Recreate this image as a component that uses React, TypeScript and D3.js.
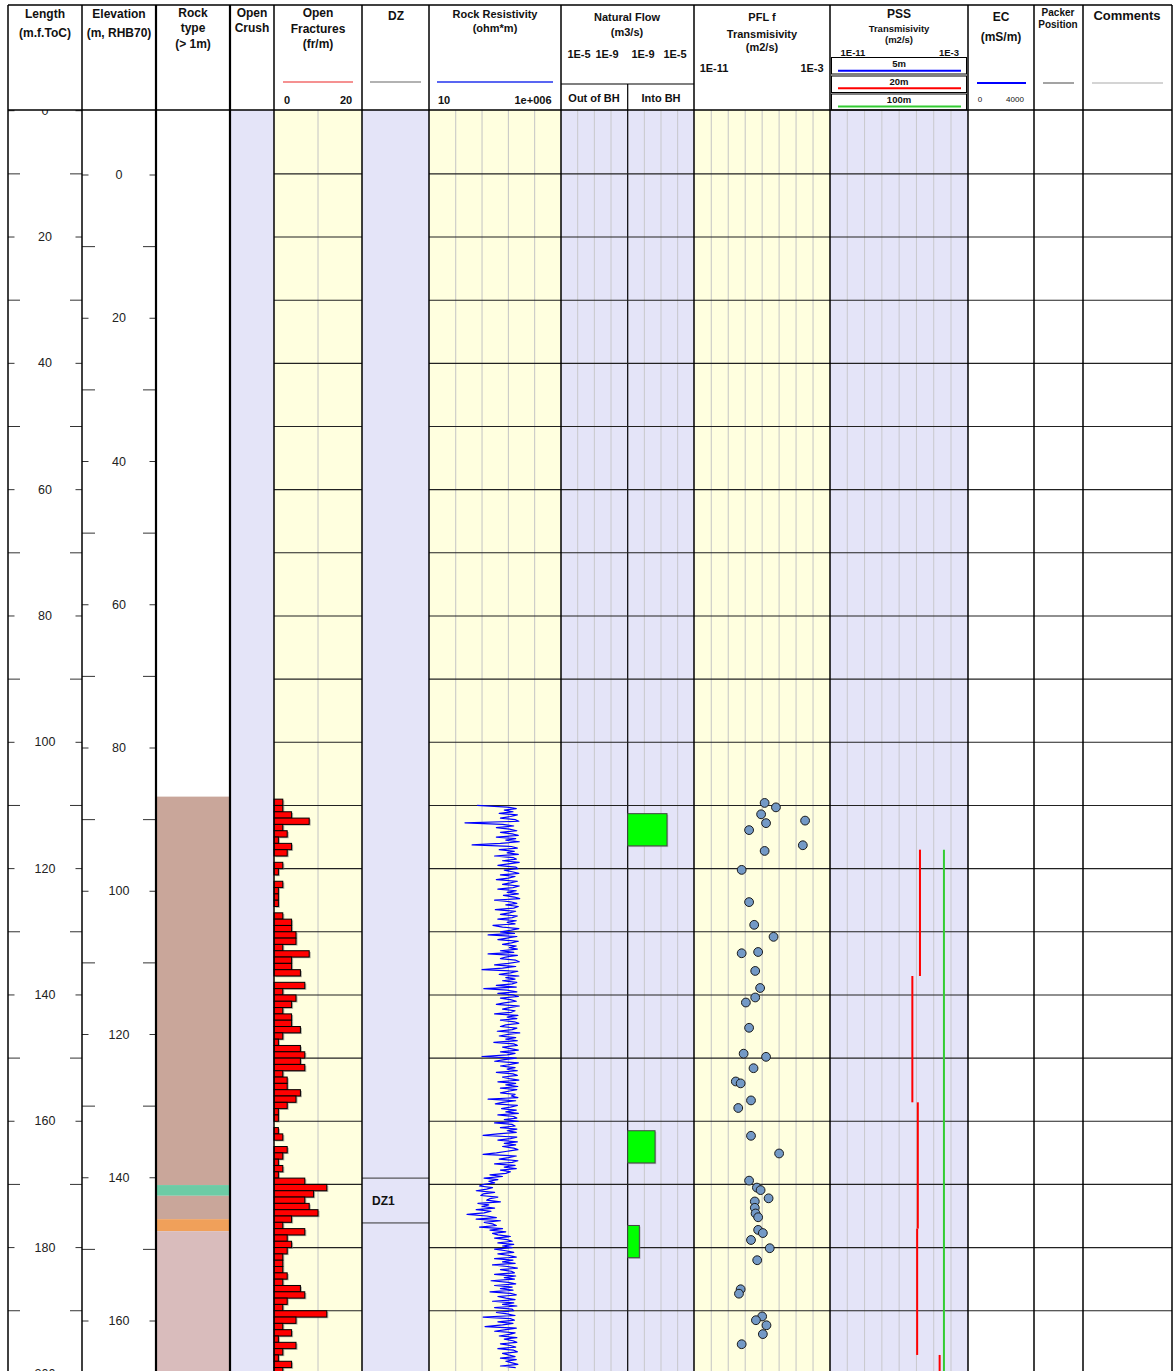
import React from 'react';
import * as d3 from 'd3';

const WIDTH = 1173;
const HEIGHT = 1371;
const FONT = "'Liberation Sans', Arial, Helvetica, sans-serif";

// Column edges (Length, Elevation, Rock type, Open Crush, Open Fractures, DZ,
// Rock Resistivity, Natural Flow, PFL, PSS, EC, Packer, Comments)
const COLS = [8, 82, 156, 230, 274, 362, 429, 561, 694, 830, 968, 1034, 1083, 1172];

// Rock type intervals along the borehole (m)
const rockFrom = [108.6, 170.1, 171.8, 175.5, 177.4];
const rockTo = [170.1, 171.8, 175.5, 177.4, 205];
const rockCode = [1, 2, 1, 3, 4];

// Open fractures per metre, one value per metre starting at 109 m
const fractureStart = 109;
const fracturesPerMetre = [
  2, 2, 4, 8, 2, 3, 1, 4, 3, 0,
  2, 1, 0, 2, 1, 1, 1, 0, 2, 4,
  4, 5, 5, 2, 8, 4, 4, 6, 0, 7,
  2, 5, 4, 2, 4, 4, 6, 2, 1, 6,
  7, 6, 7, 2, 3, 3, 6, 5, 3, 1,
  1, 0, 1, 2, 0, 3, 2, 1, 2, 1,
  7, 12, 9, 7, 8, 10, 4, 2, 7, 3,
  4, 3, 2, 2, 2, 3, 2, 6, 7, 3,
  2, 12, 5, 2, 4, 1, 5, 2, 1, 4,
  2,
];

// Deformation zones
const dzName = ['DZ1'];
const dzFrom = [169.0];
const dzTo = [176.1];

// Rock resistivity (ohm*m), sampled every 0.25 m from 110 m
const resistivityStart = 110;
const resistivityStep = 0.25;
const resistivity = [
  650, 9000, 20000, 7000, 15000, 4500, 22000, 12000, 5000, 18000, 25000, 225, 6000, 16000, 3500, 11000, 21000, 5000, 14000, 24000,
  3500, 19000, 8000, 26000, 5000, 420, 13000, 22000, 4500, 17000, 9000, 24000, 3000, 15000, 20000, 6000, 26000, 10000, 4000, 19000,
  23000, 7000, 14000, 25000, 5000, 18000, 10000, 3500, 22000, 12000, 6000, 26000, 15000, 4000, 20000, 9000, 24000, 6500, 17000, 27000,
  3000, 12000, 21000, 8000, 24000, 16000, 3200, 19000, 11000, 5000, 22000, 14000, 4000, 20000, 9000, 18000, 2600, 6000, 25000, 13000,
  5000, 17000, 1700, 21000, 9000, 4000, 24000, 13000, 6000, 20000, 11000, 22000, 5000, 16000, 1700, 22000, 8000, 5000, 19000, 26000,
  10000, 3000, 19000, 6000, 1000, 23000, 12000, 4500, 25000, 8000, 18000, 6000, 21000, 14000, 3500, 20000, 1170, 9000, 21000, 4000,
  15000, 24000, 5000, 12000, 20000, 7000, 3500, 26000, 11000, 6000, 18000, 13000, 3000, 23000, 9000, 21000, 5000, 17000, 25000, 8000,
  5000, 21000, 14000, 3800, 27000, 10000, 4500, 19000, 8000, 22000, 2800, 16000, 22000, 6000, 12000, 24000, 5000, 18000, 9000, 1000,
  20000, 7000, 3000, 24000, 12000, 5000, 18000, 9000, 22000, 3500, 15000, 22000, 6000, 11000, 25000, 4000, 19000, 8000, 23000, 5000,
  21000, 10000, 5000, 18000, 13000, 23000, 1700, 19000, 6000, 3200, 22000, 12000, 5500, 20000, 8000, 24000, 4000, 16000, 21000, 7000,
  24000, 3000, 14000, 18000, 5000, 21000, 9000, 20000, 4000, 1100, 21000, 12000, 4000, 22000, 7000, 19000, 6000, 16000, 23000, 9000,
  3500, 1100, 20000, 10000, 4500, 23000, 14000, 3000, 18000, 7000, 20000, 5000, 12000, 8000, 2000, 6000, 1200, 4000, 1800, 3000,
  1200, 800, 2500, 1500, 600, 3000, 1100, 900, 4000, 2000, 1500, 5000, 700, 1800, 1000, 3000, 600, 2200, 1200, 270,
  1500, 3500, 600, 5000, 1200, 2500, 3500, 800, 6000, 2000, 8000, 2500, 4000, 12000, 3000, 9000, 14000, 4000, 16000, 6000,
  14000, 3000, 8000, 16000, 4000, 11000, 20000, 3000, 15000, 6000, 18000, 2500, 9000, 22000, 5000, 13000, 17000, 3000, 19000, 7000,
  17000, 2200, 10000, 19000, 3000, 14000, 5000, 15000, 2000, 12000, 20000, 4000, 8000, 18000, 2500, 16000, 6000, 21000, 3000, 14000,
  16000, 3500, 9000, 18000, 1100, 12000, 17000, 4000, 15000, 6000, 1300, 20000, 8000, 3000, 18000, 11000, 4500, 21000, 7000, 15000,
  21000, 5000, 12000, 19000, 4000, 16000, 22000, 6000, 10000, 18000, 5000, 20000, 8000, 14000, 23000, 5000, 19000,
];

// Natural flow into the borehole (m3/s), 5 m sections
const flowFrom = [111.3, 161.5, 176.5];
const flowTo = [116.4, 166.6, 181.6];
const flowInto = [2.3e-7, 4.4e-8, 5e-9];

// PFL-f transmissivity (m2/s) at fracture positions (m)
const pflDepth = [
  109.6, 110.3, 111.4, 112.8, 112.4, 113.9, 116.3, 117.2, 120.2, 125.3,
  128.9, 130.8, 133.4, 133.2, 136.2, 138.9, 140.4, 141.2, 145.2, 149.3,
  149.8, 151.6, 153.7, 154.0, 156.7, 157.9, 162.3, 165.1, 169.4, 170.5,
  170.9, 172.2, 172.7, 173.7, 174.6, 175.2, 177.2, 177.7, 178.8, 180.1,
  182.0, 186.6, 187.3, 190.9, 191.5, 192.3, 193.7, 195.3,
];
const pflT = [
  1.4e-7, 6.5e-7, 8.7e-8, 1.7e-7, 3.4e-5, 1.7e-8, 2.5e-5, 1.4e-7, 6.2e-9, 1.7e-8,
  3.4e-8, 4.7e-7, 6.2e-9, 5.8e-8, 3.9e-8, 7.6e-8, 3.9e-8, 1.1e-8, 1.7e-8, 8.1e-9,
  1.7e-7, 3.1e-8, 2.8e-9, 5.4e-9, 2.2e-8, 3.9e-9, 2.2e-8, 1.0e-6, 1.7e-8, 4.9e-8,
  8.1e-8, 2.4e-7, 3.7e-8, 3.7e-8, 4.1e-8, 5.8e-8, 5.8e-8, 1.1e-7, 2.2e-8, 2.8e-7,
  5.1e-8, 5.4e-9, 4.3e-9, 1.0e-7, 4.3e-8, 1.8e-7, 1.1e-7, 6.2e-9,
];

// PSS transmissivity (m2/s), 20 m and 100 m test sections
const pss20From = [117, 137, 157, 177, 197];
const pss20To = [137, 157, 177, 197, 217];
const pss20T = [1.6e-6, 5.8e-7, 1.2e-6, 1.1e-6, 2.2e-5];
const pss100From = [117];
const pss100To = [217];
const pss100T = [3.9e-5];

const ROCK_COLORS: Record<number, string> = {
  1: '#C9A69A',
  2: '#6DCBA5',
  3: '#F0A05A',
  4: '#D9BCBC',
};

const YELLOW = '#FFFFDF';
const LAVENDER = '#E4E4F8';

type HeaderText = { x: number; y: number; t: string; size: number; bold?: boolean; anchor?: string };

const headerTexts: HeaderText[] = [
  { x: 45, y: 14, t: 'Length', size: 12, bold: true },
  { x: 45, y: 33, t: '(m.f.ToC)', size: 12, bold: true },
  { x: 119, y: 14, t: 'Elevation', size: 12, bold: true },
  { x: 119, y: 33, t: '(m, RHB70)', size: 12, bold: true },
  { x: 193, y: 13, t: 'Rock', size: 12, bold: true },
  { x: 193, y: 28, t: 'type', size: 12, bold: true },
  { x: 193, y: 44, t: '(> 1m)', size: 12, bold: true },
  { x: 252, y: 13, t: 'Open', size: 12, bold: true },
  { x: 252, y: 28, t: 'Crush', size: 12, bold: true },
  { x: 318, y: 13, t: 'Open', size: 12, bold: true },
  { x: 318, y: 29, t: 'Fractures', size: 12, bold: true },
  { x: 318, y: 44, t: '(fr/m)', size: 12, bold: true },
  { x: 287, y: 100, t: '0', size: 11, bold: true },
  { x: 346, y: 100, t: '20', size: 11, bold: true },
  { x: 396, y: 16, t: 'DZ', size: 12, bold: true },
  { x: 495, y: 14, t: 'Rock Resistivity', size: 11, bold: true },
  { x: 495, y: 28, t: '(ohm*m)', size: 11, bold: true },
  { x: 444, y: 100, t: '10', size: 11, bold: true },
  { x: 533, y: 100, t: '1e+006', size: 11, bold: true },
  { x: 627, y: 17, t: 'Natural Flow', size: 11, bold: true },
  { x: 627, y: 32, t: '(m3/s)', size: 11, bold: true },
  { x: 579, y: 54, t: '1E-5', size: 11, bold: true },
  { x: 607, y: 54, t: '1E-9', size: 11, bold: true },
  { x: 643, y: 54, t: '1E-9', size: 11, bold: true },
  { x: 675, y: 54, t: '1E-5', size: 11, bold: true },
  { x: 594, y: 98, t: 'Out of BH', size: 11, bold: true },
  { x: 661, y: 98, t: 'Into BH', size: 11, bold: true },
  { x: 762, y: 17, t: 'PFL f', size: 11, bold: true },
  { x: 762, y: 34, t: 'Transmisivity', size: 11, bold: true },
  { x: 762, y: 47, t: '(m2/s)', size: 11, bold: true },
  { x: 714, y: 68, t: '1E-11', size: 11, bold: true },
  { x: 812, y: 68, t: '1E-3', size: 11, bold: true },
  { x: 899, y: 14, t: 'PSS', size: 12, bold: true },
  { x: 899, y: 28, t: 'Transmisivity', size: 9.5, bold: true },
  { x: 899, y: 39, t: '(m2/s)', size: 9.5, bold: true },
  { x: 853, y: 52, t: '1E-11', size: 9.5, bold: true },
  { x: 949, y: 52, t: '1E-3', size: 9.5, bold: true },
  { x: 899, y: 63.5, t: '5m', size: 9.5, bold: true },
  { x: 899, y: 81.5, t: '20m', size: 9.5, bold: true },
  { x: 899, y: 99, t: '100m', size: 9.5, bold: true },
  { x: 1001, y: 17, t: 'EC', size: 12, bold: true },
  { x: 1001, y: 37, t: '(mS/m)', size: 12, bold: true },
  { x: 980, y: 99, t: '0', size: 8 },
  { x: 1015, y: 99, t: '4000', size: 8 },
  { x: 1058, y: 12, t: 'Packer', size: 10, bold: true },
  { x: 1058, y: 24, t: 'Position', size: 10, bold: true },
  { x: 1127, y: 15, t: 'Comments', size: 13, bold: true },
];

export default function App() {
  const yLen = d3.scaleLinear().domain([0, 200]).range([110.7, 1373.9]);
  const yElev = d3.scaleLinear().domain([0, 160]).range([175, 1321]);
  const xFrac = d3.scaleLinear().domain([0, 20]).range([274, 362]);
  const xRes = d3.scaleLog().domain([10, 1e6]).range([429.4, 561]);
  const xInto = d3.scaleLog().domain([1e-9, 1e-5]).range([627.7, 694.3]);
  const xOut = d3.scaleLog().domain([1e-5, 1e-9]).range([561, 627.7]);
  const xPfl = d3.scaleLog().domain([1e-11, 1e-3]).range([694.3, 830]);
  const xPss = d3.scaleLog().domain([1e-11, 1e-3]).range([830, 968.3]);

  const lengthTicks = d3.range(0, 201, 10);
  const elevationTicks = d3.range(-10, 171, 10);
  const gridDepths = d3.range(10, 200, 10);

  const resLine = d3
    .line<number>()
    .x((d) => xRes(d))
    .y((_, i) => yLen(resistivityStart + i * resistivityStep));
  const resPath = resLine(resistivity) || '';

  const top = 110;
  const bottom = HEIGHT;

  const decadeLines = (scale: d3.ScaleLogarithmic<number, number>, from: number, to: number) =>
    d3.range(from, to + 1).map((e) => scale(Math.pow(10, e)));

  const resGrid = decadeLines(xRes, 2, 5);
  const outGrid = decadeLines(xOut, -8, -6);
  const intoGrid = decadeLines(xInto, -8, -6);
  const pflGrid = decadeLines(xPfl, -10, -4);
  const pssGrid = decadeLines(xPss, -10, -4);

  return (
    <svg
      width={WIDTH}
      height={HEIGHT}
      style={{ position: 'absolute', left: 0, top: 0, background: '#fff' }}
      fontFamily={FONT}
    >
      <defs>
        <clipPath id="plotArea">
          <rect x={0} y={top} width={WIDTH} height={bottom - top} />
        </clipPath>
      </defs>

      <rect x={0} y={0} width={WIDTH} height={HEIGHT} fill="#fff" />

      {/* track backgrounds */}
      <rect x={COLS[3]} y={top} width={COLS[4] - COLS[3]} height={bottom - top} fill={LAVENDER} />
      <rect x={COLS[4]} y={top} width={COLS[5] - COLS[4]} height={bottom - top} fill={YELLOW} />
      <rect x={COLS[5]} y={top} width={COLS[6] - COLS[5]} height={bottom - top} fill={LAVENDER} />
      <rect x={COLS[6]} y={top} width={COLS[7] - COLS[6]} height={bottom - top} fill={YELLOW} />
      <rect x={COLS[7]} y={top} width={COLS[8] - COLS[7]} height={bottom - top} fill={LAVENDER} />
      <rect x={COLS[8]} y={top} width={COLS[9] - COLS[8]} height={bottom - top} fill={YELLOW} />
      <rect x={COLS[9]} y={top} width={COLS[10] - COLS[9]} height={bottom - top} fill={LAVENDER} />

      <g clipPath="url(#plotArea)">
        {/* rock type */}
        {rockFrom.map((f, i) => (
          <rect
            key={`rock${i}`}
            x={COLS[2]}
            y={yLen(f)}
            width={COLS[3] - COLS[2]}
            height={yLen(rockTo[i]) - yLen(f)}
            fill={ROCK_COLORS[rockCode[i]]}
          />
        ))}

        {/* vertical grid lines */}
        <line x1={xFrac(10)} x2={xFrac(10)} y1={top} y2={bottom} stroke="#c4c4c4" strokeWidth={1} />
        {resGrid.map((x, i) => (
          <line key={`rg${i}`} x1={x} x2={x} y1={top} y2={bottom} stroke="#c4c4c4" strokeWidth={1} />
        ))}
        {outGrid.concat(intoGrid).map((x, i) => (
          <line key={`fg${i}`} x1={x} x2={x} y1={top} y2={bottom} stroke="#c8c8cc" strokeWidth={1} />
        ))}
        <line x1={627.7} x2={627.7} y1={top} y2={bottom} stroke="#000" strokeWidth={1.2} />
        {pflGrid.map((x, i) => (
          <line key={`pg${i}`} x1={x} x2={x} y1={top} y2={bottom} stroke="#c4c4c4" strokeWidth={1} />
        ))}
        {pssGrid.map((x, i) => (
          <line key={`sg${i}`} x1={x} x2={x} y1={top} y2={bottom} stroke="#c8c8cc" strokeWidth={1} />
        ))}

        {/* horizontal depth grid */}
        {gridDepths.map((d) => (
          <g key={`hg${d}`}>
            <line x1={COLS[4]} x2={COLS[5]} y1={yLen(d)} y2={yLen(d)} stroke="#222" strokeWidth={1.1} />
            <line x1={COLS[6]} x2={COLS[13]} y1={yLen(d)} y2={yLen(d)} stroke="#222" strokeWidth={1.1} />
          </g>
        ))}

        {/* open fractures */}
        {fracturesPerMetre.map((v, i) => {
          if (v <= 0) return null;
          const y0 = yLen(fractureStart + i);
          const h = yLen(fractureStart + i + 1) - y0;
          const w = xFrac(v) - xFrac(0);
          return (
            <g key={`fr${i}`}>
              <rect x={xFrac(0) + 1.5} y={y0 + 1.2} width={w} height={h} fill="#777" opacity={0.6} />
              <rect x={xFrac(0)} y={y0} width={w} height={h} fill="#FF0000" stroke="#000" strokeWidth={1} />
            </g>
          );
        })}

        {/* deformation zones */}
        {dzName.map((n, i) => (
          <g key={`dz${i}`}>
            <line x1={COLS[5]} x2={COLS[6]} y1={yLen(dzFrom[i])} y2={yLen(dzFrom[i])} stroke="#333" strokeWidth={1} />
            <line x1={COLS[5]} x2={COLS[6]} y1={yLen(dzTo[i])} y2={yLen(dzTo[i])} stroke="#333" strokeWidth={1} />
            <text
              x={372}
              y={(yLen(dzFrom[i]) + yLen(dzTo[i])) / 2}
              fontSize={12}
              fontWeight="bold"
              dominantBaseline="central"
              fill="#111"
            >
              {n}
            </text>
          </g>
        ))}

        {/* rock resistivity */}
        <path d={resPath} fill="none" stroke="#0000FF" strokeWidth={1.2} strokeLinejoin="round" />

        {/* natural flow into borehole */}
        {flowInto.map((q, i) => {
          const y0 = yLen(flowFrom[i]);
          const h = yLen(flowTo[i]) - y0;
          const w = xInto(q) - xInto(1e-9);
          return (
            <g key={`nf${i}`}>
              <rect x={xInto(1e-9) + 1.2} y={y0 + 1.2} width={w} height={h} fill="#888" opacity={0.5} />
              <rect x={xInto(1e-9)} y={y0} width={w} height={h} fill="#00FF00" stroke="#444" strokeWidth={1} />
            </g>
          );
        })}

        {/* PFL transmissivity */}
        {pflT.map((t, i) => (
          <circle
            key={`pfl${i}`}
            cx={xPfl(t)}
            cy={yLen(pflDepth[i])}
            r={4.4}
            fill="#7399C6"
            stroke="#1a1a1a"
            strokeWidth={1}
          />
        ))}

        {/* PSS transmissivity */}
        {pss20T.map((t, i) => (
          <line
            key={`p20${i}`}
            x1={xPss(t)}
            x2={xPss(t)}
            y1={yLen(pss20From[i])}
            y2={yLen(pss20To[i])}
            stroke="#FF0000"
            strokeWidth={2}
          />
        ))}
        {pss100T.map((t, i) => (
          <line
            key={`p100${i}`}
            x1={xPss(t)}
            x2={xPss(t)}
            y1={yLen(pss100From[i])}
            y2={yLen(pss100To[i])}
            stroke="#33CC33"
            strokeWidth={2}
          />
        ))}
      </g>

      {/* length axis */}
      {lengthTicks.map((d) => {
        const y = yLen(d);
        if (y < top - 3 || y > bottom + 8) return null;
        const labeled = d % 20 === 0;
        const len = labeled ? 6.5 : 12;
        return (
          <g key={`lt${d}`}>
            {y > top && y < bottom && (
              <>
                <line x1={COLS[0]} x2={COLS[0] + len} y1={y} y2={y} stroke="#333" strokeWidth={1} />
                <line x1={COLS[1] - len} x2={COLS[1]} y1={y} y2={y} stroke="#333" strokeWidth={1} />
              </>
            )}
            {labeled && (
              <text x={45} y={y} fontSize={12.5} textAnchor="middle" dominantBaseline="central" fill="#222">
                {d}
              </text>
            )}
          </g>
        );
      })}

      {/* elevation axis */}
      {elevationTicks.map((e) => {
        const y = yElev(e);
        if (y < top || y > bottom) return null;
        const labeled = e % 20 === 0;
        const len = labeled ? 6.5 : 13;
        return (
          <g key={`et${e}`}>
            <line x1={COLS[1]} x2={COLS[1] + len} y1={y} y2={y} stroke="#333" strokeWidth={1} />
            <line x1={COLS[2] - len} x2={COLS[2]} y1={y} y2={y} stroke="#333" strokeWidth={1} />
            {labeled && (
              <text x={119} y={y} fontSize={12.5} textAnchor="middle" dominantBaseline="central" fill="#222">
                {e}
              </text>
            )}
          </g>
        );
      })}

      {/* header */}
      <rect x={0} y={0} width={WIDTH} height={top} fill="#fff" />
      {headerTexts.map((h, i) => (
        <text
          key={`ht${i}`}
          x={h.x}
          y={h.y}
          fontSize={h.size}
          fontWeight={h.bold ? 'bold' : 'normal'}
          textAnchor={h.anchor || 'middle'}
          dominantBaseline="central"
          fill="#111"
        >
          {h.t}
        </text>
      ))}

      {/* legend swatches */}
      <line x1={283} x2={353} y1={82} y2={82} stroke="#F26D6D" strokeWidth={1.3} />
      <line x1={370} x2={421} y1={82} y2={82} stroke="#666" strokeWidth={1.2} />
      <line x1={437} x2={553} y1={82} y2={82} stroke="#2233EE" strokeWidth={1.6} />
      <line x1={COLS[7]} x2={COLS[8]} y1={84} y2={84} stroke="#000" strokeWidth={1.2} />
      <line x1={627.7} x2={627.7} y1={84} y2={top} stroke="#000" strokeWidth={1.2} />
      <rect x={831.5} y={57.5} width={135} height={16.5} fill="none" stroke="#000" strokeWidth={1} />
      <rect x={831.5} y={76} width={135} height={16.5} fill="none" stroke="#000" strokeWidth={1} />
      <rect x={831.5} y={94} width={135} height={16} fill="none" stroke="#000" strokeWidth={1} />
      <line x1={838} x2={961} y1={70.7} y2={70.7} stroke="#0000FF" strokeWidth={2} />
      <line x1={838} x2={961} y1={88.3} y2={88.3} stroke="#FF0000" strokeWidth={2} />
      <line x1={838} x2={961} y1={106.5} y2={106.5} stroke="#33CC33" strokeWidth={2} />
      <line x1={977} x2={1026} y1={83} y2={83} stroke="#0000FF" strokeWidth={2} />
      <line x1={1043} x2={1074} y1={83} y2={83} stroke="#666" strokeWidth={1.2} />
      <line x1={1092} x2={1163} y1={83} y2={83} stroke="#aaa" strokeWidth={1.2} />

      {/* frame */}
      <line x1={COLS[0]} x2={COLS[13]} y1={5} y2={5} stroke="#000" strokeWidth={1.5} />
      <line x1={COLS[0]} x2={COLS[13]} y1={top} y2={top} stroke="#000" strokeWidth={1.5} />
      {COLS.map((x, i) => (
        <line
          key={`col${i}`}
          x1={x}
          x2={x}
          y1={5}
          y2={HEIGHT}
          stroke="#000"
          strokeWidth={i === 2 || i === 3 ? 2.2 : 1.5}
        />
      ))}
    </svg>
  );
}
